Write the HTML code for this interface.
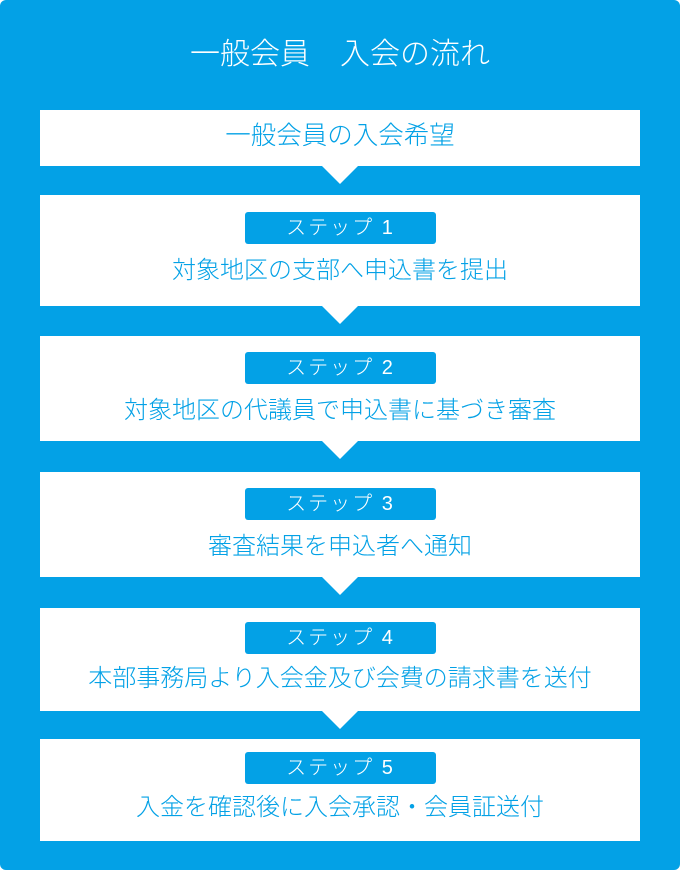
<!DOCTYPE html>
<html><head><meta charset="utf-8"><style>
*{margin:0;padding:0;box-sizing:border-box}
body{width:680px;height:870px;background:#fff;font-family:"Liberation Sans","Noto Sans CJK JP",sans-serif;position:relative;overflow:hidden}
.bg{position:absolute;left:0;top:0;width:680px;height:870px;background:#03a1e6;border-radius:6px}
.t{position:absolute;left:0;width:680px;text-align:center;color:#fff;font-size:30px;top:36px;font-weight:300;line-height:38px}
.box{position:absolute;left:40px;width:600px;background:#fff}
.tri{position:absolute;left:322px;width:0;height:0;border-left:18px solid transparent;border-right:18px solid transparent;border-top:18px solid #fff}
.lab{position:absolute;left:245px;width:191px;height:32px;background:#03a1e6;border-radius:3px;color:#fff;font-size:20px;line-height:32px;text-align:center;letter-spacing:2px;font-weight:300}
.d{position:absolute;left:20px;width:640px;text-align:center;color:#03a1e6;font-size:24px;line-height:30px;font-weight:300}
</style></head><body>
<div class="bg"></div>
<div class="t">一般会員　入会の流れ</div>

<div class="box" style="top:110px;height:56px"></div>
<div class="tri" style="top:166px"></div>
<div class="d" style="top:121px;font-size:25.5px">一般会員の入会希望</div>

<div class="box" style="top:195px;height:111px"></div>
<div class="tri" style="top:306px"></div>
<div class="lab" style="top:212px">ステップ 1</div>
<div class="d" style="top:256px">対象地区の支部へ申込書を提出</div>

<div class="box" style="top:336px;height:105px"></div>
<div class="tri" style="top:441px"></div>
<div class="lab" style="top:352px">ステップ 2</div>
<div class="d" style="top:396px">対象地区の代議員で申込書に基づき審査</div>

<div class="box" style="top:472px;height:105px"></div>
<div class="tri" style="top:577px"></div>
<div class="lab" style="top:488px">ステップ 3</div>
<div class="d" style="top:532px">審査結果を申込者へ通知</div>

<div class="box" style="top:608px;height:103px"></div>
<div class="tri" style="top:711px"></div>
<div class="lab" style="top:622px">ステップ 4</div>
<div class="d" style="top:664px">本部事務局より入会金及び会費の請求書を送付</div>

<div class="box" style="top:739px;height:102px"></div>
<div class="lab" style="top:752px">ステップ 5</div>
<div class="d" style="top:793px">入金を確認後に入会承認・会員証送付</div>
</body></html>
